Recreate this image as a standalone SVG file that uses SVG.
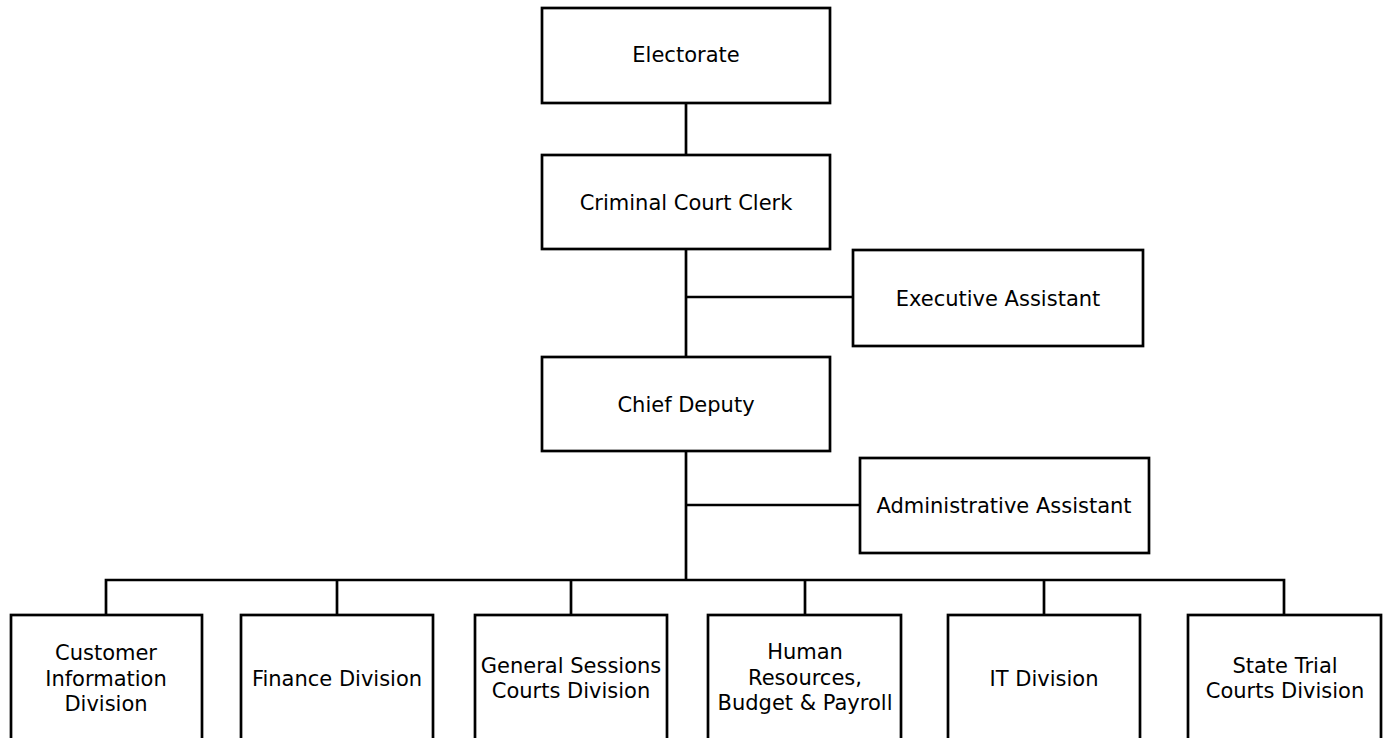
<svg xmlns="http://www.w3.org/2000/svg" width="1389" height="738" viewBox="0 0 1389 738">
<style>
.box{fill:#fff;stroke:#000;stroke-width:2.7}
.ln{fill:none;stroke:#000;stroke-width:2.7}
text{font-family:"DejaVu Sans",Verdana,sans-serif;font-size:21px;fill:#000;text-anchor:middle}
</style>
<rect width="1389" height="738" fill="#fff"/>
<g id="connectors">
<line class="ln" x1="686" y1="103" x2="686" y2="155"/>
<line class="ln" x1="686" y1="249" x2="686" y2="357"/>
<line class="ln" x1="686" y1="297" x2="853" y2="297"/>
<line class="ln" x1="686" y1="451" x2="686" y2="580"/>
<line class="ln" x1="686" y1="505" x2="860" y2="505"/>
<polyline class="ln" points="106,615 106,580 1284,580 1284,615"/>
<line class="ln" x1="337" y1="580" x2="337" y2="615"/>
<line class="ln" x1="571" y1="580" x2="571" y2="615"/>
<line class="ln" x1="805" y1="580" x2="805" y2="615"/>
<line class="ln" x1="1044" y1="580" x2="1044" y2="615"/>
</g>
<g id="electorate"><rect class="box" x="542" y="8" width="288" height="95"/><text x="686" y="62">Electorate</text></g>
<g id="criminal-court-clerk"><rect class="box" x="542" y="155" width="288" height="94"/><text x="686" y="209.5">Criminal Court Clerk</text></g>
<g id="executive-assistant"><rect class="box" x="853" y="250" width="290" height="96"/><text x="998" y="305.5">Executive Assistant</text></g>
<g id="chief-deputy"><rect class="box" x="542" y="357" width="288" height="94"/><text x="686" y="411.5">Chief Deputy</text></g>
<g id="administrative-assistant"><rect class="box" x="860" y="458" width="289" height="95"/><text x="1004" y="513">Administrative Assistant</text></g>
<g id="customer-information"><rect class="box" x="11" y="615" width="191" height="140"/><text x="106" y="660">Customer</text><text x="106" y="686">Information</text><text x="106" y="711">Division</text></g>
<g id="finance"><rect class="box" x="241" y="615" width="192" height="140"/><text x="337" y="686">Finance Division</text></g>
<g id="general-sessions"><rect class="box" x="475" y="615" width="192" height="140"/><text x="571" y="673">General Sessions</text><text x="571" y="698">Courts Division</text></g>
<g id="human-resources"><rect class="box" x="708" y="615" width="193" height="140"/><text x="805" y="659">Human</text><text x="805" y="685">Resources,</text><text x="805" y="710">Budget &amp; Payroll</text></g>
<g id="it"><rect class="box" x="948" y="615" width="192" height="140"/><text x="1044" y="686">IT Division</text></g>
<g id="state-trial"><rect class="box" x="1188" y="615" width="193" height="140"/><text x="1285" y="673">State Trial</text><text x="1285" y="698">Courts Division</text></g>
</svg>
